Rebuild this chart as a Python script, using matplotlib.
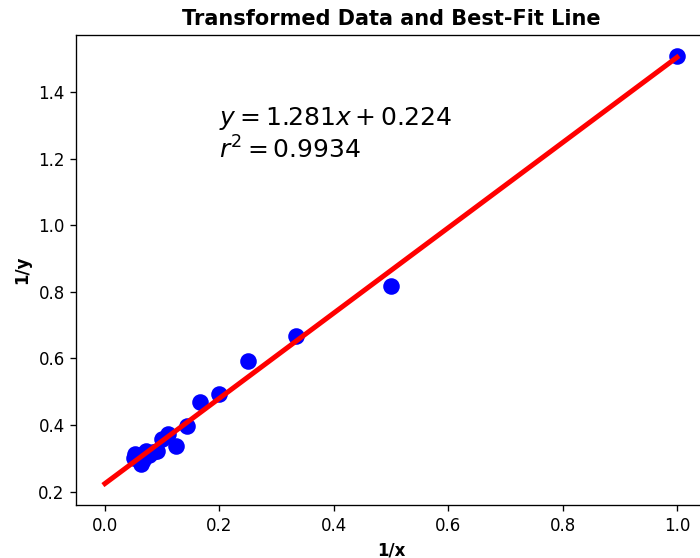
import numpy as np
import matplotlib
matplotlib.use("Agg")
import matplotlib.pyplot as plt

inv_x = [1.0, 0.5, 0.3333, 0.25, 0.2, 0.1667, 0.1429, 0.125, 0.1111, 0.1,
         0.0909, 0.0833, 0.0769, 0.0714, 0.0667, 0.0625, 0.0588, 0.0556, 0.0526, 0.05]
inv_y = [1.509, 0.817, 0.669, 0.593, 0.492, 0.470, 0.396, 0.338, 0.372, 0.358,
         0.322, 0.318, 0.310, 0.322, 0.295, 0.284, 0.300, 0.310, 0.312, 0.302]
slope = 1.281
intercept = 0.224
r2 = 0.9934
line_x = [0.0, 1.0]

DPI = 120
fig = plt.figure(figsize=(700 / DPI, 558 / DPI), dpi=DPI)
ax = fig.add_axes([0.109, 0.095, 0.899, 0.843])
ax.scatter(inv_x, inv_y, s=80, color='blue', zorder=2)
ax.plot(line_x, [slope * v + intercept for v in line_x], color='red', lw=3, zorder=3)
ax.text(0.2, 1.2, f"$y = {slope}x + {intercept}$\n$r^2 = {r2}$", fontsize=15)
ax.set_title("Transformed Data and Best-Fit Line", fontweight='bold', fontsize=12.5)
ax.set_xlabel("1/x", fontweight='bold')
ax.set_ylabel("1/y", fontweight='bold')
fig.savefig("out.png", dpi=DPI)
